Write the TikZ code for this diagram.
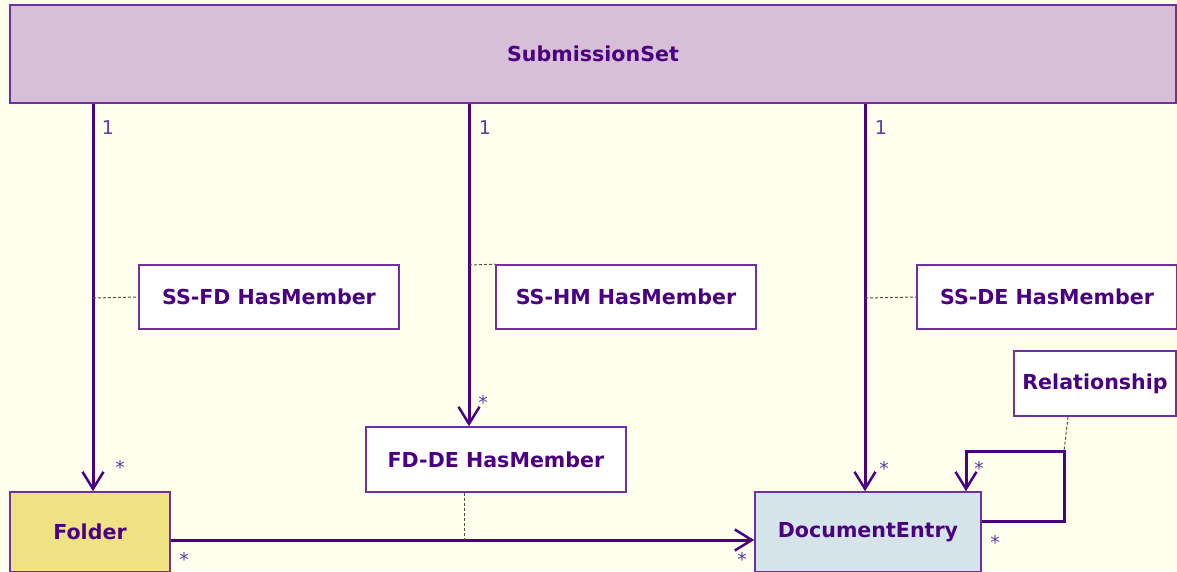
\documentclass[tikz,border=0pt]{standalone}
\usepackage{fontspec}
\setmainfont{DejaVu Sans}
\usetikzlibrary{arrows.meta}
\definecolor{bg}{RGB}{255,255,238}
\definecolor{boxline}{RGB}{112,48,160}
\definecolor{txt}{RGB}{75,0,130}
\definecolor{lnk}{RGB}{75,0,130}
\definecolor{mul}{RGB}{90,60,170}
\definecolor{dashc}{RGB}{80,80,64}
\definecolor{ssfill}{RGB}{216,191,216}
\definecolor{fdfill}{RGB}{238,226,133}
\definecolor{defill}{RGB}{213,228,233}
\tikzset{
  box/.style={draw=boxline, line width=1.6pt, fill=white, text=txt,
    font=\bfseries\fontsize{20.6}{24}\selectfont, inner sep=0pt, anchor=center},
  conn/.style={draw=lnk, line width=3pt},
  arr/.style={-{Straight Barb[length=17pt,width=21pt,line width=2.5pt]}},
  mult/.style={text=mul, font=\fontsize{19}{21}\selectfont, inner sep=0pt},
  note/.style={draw=dashc, line width=1pt, dash pattern=on 3pt off 2pt}
}
\begin{document}
\begin{tikzpicture}[x=1pt,y=-1pt]
\useasboundingbox (0,0) rectangle (1177,571);
\fill[bg] (0,0) rectangle (1177,571);
\begin{scope}
\clip (0,0) rectangle (1177,571);
% nodes
\node[box, fill=ssfill, minimum width=1166pt, minimum height=98pt] (ss) at (593,54) {SubmissionSet};
\node[box, minimum width=260pt, minimum height=64pt] (ssfd) at (269,297) {SS-FD HasMember};
\node[box, minimum width=260pt, minimum height=64pt] (sshm) at (626,297) {SS-HM HasMember};
\node[box, minimum width=260pt, minimum height=64pt] (ssde) at (1047,297) {SS-DE HasMember};
\node[box, minimum width=162pt, minimum height=65pt] (rel) at (1095,383.5) {Relationship};
\node[box, minimum width=260pt, minimum height=65pt] (fdde) at (496,459.5) {FD-DE HasMember};
\node[box, fill=fdfill, minimum width=160pt, minimum height=80pt] (folder) at (90,532) {Folder};
\node[box, fill=defill, minimum width=226pt, minimum height=80pt] (de) at (868,532) {DocumentEntry};
% associations
\draw[conn, arr] (ss.south -| 93,0) -- (folder.north -| 93,0);
\draw[conn, arr] (ss.south -| 469,0) -- (fdde.north -| 469,0);
\draw[conn, arr] (ss.south -| 865,0) -- (de.north -| 865,0);
\draw[conn, arr] (folder.east |- 0,540) -- (de.west |- 0,540);
\coordinate (lp) at (1064,451);
\draw[conn, arr] (de.east |- 0,521) -| (lp) -| (de.north -| 966,0);
% note links
\draw[note] (93,298) -- (ssfd.west);
\draw[note] (469,265) -- (sshm.north west);
\draw[note] (865,298) -- (ssde.west);
\draw[note] (fdde.south -| 464,0) -- (464,540);
\draw[note] (rel.south -| 1068,0) -- (lp);
% multiplicities
\node[mult] (m1) at (108,128) {1};
\node[mult] (m2) at (485,128) {1};
\node[mult] (m3) at (881,128) {1};
\node[mult] (s1) at (120,467) {*};
\node[mult] (s2) at (483,402) {*};
\node[mult] (s3) at (884,468) {*};
\node[mult] (s4) at (979,468) {*};
\node[mult] (s5) at (995,542) {*};
\node[mult] (s6) at (184,559) {*};
\node[mult] (s7) at (742,559) {*};
\end{scope}
\end{tikzpicture}
\end{document}
